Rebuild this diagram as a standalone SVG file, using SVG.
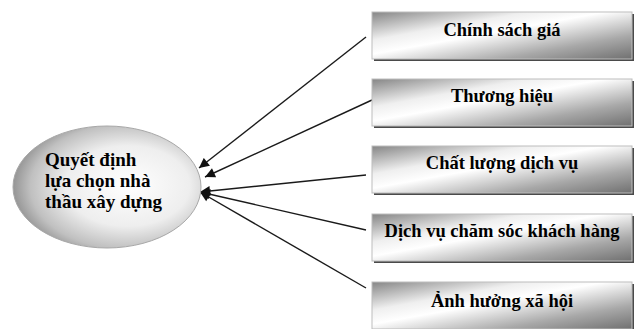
<svg xmlns="http://www.w3.org/2000/svg" width="634" height="329" viewBox="0 0 634 329">
<defs>
<linearGradient id="boxg" x1="0" y1="0" x2="1" y2="1">
<stop offset="0" stop-color="#858585"/>
<stop offset="0.3" stop-color="#efefef"/>
<stop offset="0.45" stop-color="#ffffff"/>
<stop offset="0.75" stop-color="#a8a8a8"/>
<stop offset="1" stop-color="#707070"/>
</linearGradient>
<radialGradient id="ellg" cx="0.6" cy="0.5" r="0.6" fx="0.62" fy="0.48">
<stop offset="0" stop-color="#ffffff"/>
<stop offset="0.55" stop-color="#eeeeee"/>
<stop offset="0.85" stop-color="#c0c0c0"/>
<stop offset="1" stop-color="#959595"/>
</radialGradient>
<marker id="arr" viewBox="0 0 10 10" refX="10" refY="5" markerWidth="11" markerHeight="10" markerUnits="userSpaceOnUse" orient="auto">
<path d="M0,0 L10,5 L0,10 Z" fill="#111"/>
</marker>
<style>
.shadow{fill:#4a4a4a}
.box{fill:url(#boxg);stroke:#bdbdbd;stroke-width:1}
.lbl{font-family:"Liberation Serif","Times New Roman",serif;font-weight:bold;font-size:18.5px;fill:#000;text-anchor:middle}
.elbl{font-family:"Liberation Serif","Times New Roman",serif;font-weight:bold;font-size:19px;fill:#000}
.conn{stroke:#1a1a1a;stroke-width:1.4;fill:none;marker-end:url(#arr)}
</style>
</defs>
<rect width="634" height="329" fill="#ffffff"/>
<g id="connectors">
<line class="conn" x1="366" y1="37" x2="199" y2="168"/>
<line class="conn" x1="372" y1="100" x2="205" y2="177"/>
<line class="conn" x1="366" y1="175" x2="200" y2="192"/>
<line class="conn" x1="366" y1="230" x2="200" y2="192"/>
<line class="conn" x1="366" y1="288" x2="200" y2="192"/>
</g>
<g id="decision">
<ellipse cx="107" cy="187" rx="94" ry="61" fill="url(#ellg)" stroke="#a8a8a8" stroke-width="1"/>
<text class="elbl" x="45" y="166">Quyết định</text>
<text class="elbl" x="45" y="187">lựa chọn nhà</text>
<text class="elbl" x="45" y="208">thầu xây dựng</text>
</g>
<g id="box1">
<rect class="shadow" x="374" y="14" width="260" height="47"/>
<rect class="box" x="372" y="12" width="260" height="47"/>
<text class="lbl" x="502" y="36">Chính sách giá</text>
</g>
<g id="box2">
<rect class="shadow" x="374" y="81" width="260" height="47"/>
<rect class="box" x="372" y="79" width="260" height="47"/>
<text class="lbl" x="502" y="102">Thương hiệu</text>
</g>
<g id="box3">
<rect class="shadow" x="374" y="148" width="260" height="47"/>
<rect class="box" x="372" y="146" width="260" height="47"/>
<text class="lbl" x="502" y="169">Chất lượng dịch vụ</text>
</g>
<g id="box4">
<rect class="shadow" x="374" y="216" width="260" height="47"/>
<rect class="box" x="372" y="214" width="260" height="47"/>
<text class="lbl" x="502" y="237">Dịch vụ chăm sóc khách hàng</text>
</g>
<g id="box5">
<rect class="shadow" x="374" y="284" width="260" height="47"/>
<rect class="box" x="372" y="282" width="260" height="47"/>
<text class="lbl" x="502" y="307">Ảnh hưởng xã hội</text>
</g>
</svg>
